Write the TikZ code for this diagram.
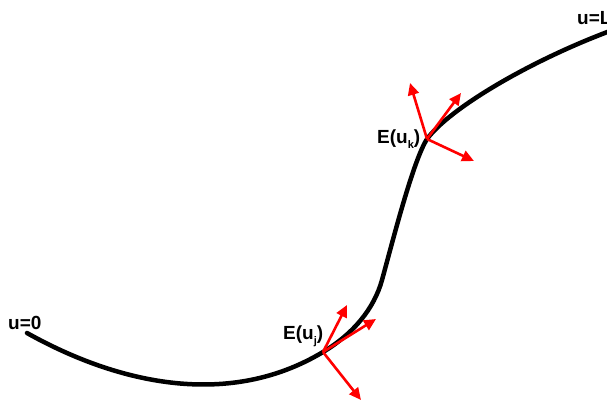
\documentclass[tikz,border=0pt]{standalone}
\usepackage{fontspec}
\setmainfont{Liberation Sans}
\usepackage{tikz}
\usetikzlibrary{arrows.meta}

\tikzset{
  curve/.style={line width=4.5pt, black, line cap=round},
  vec/.style={red, line width=2.6pt, -{Triangle[length=12pt, width=11pt]}},
  lbl/.style={font=\fontsize{19}{20}\selectfont\bfseries, inner sep=0pt, anchor=base west}
}
\newcommand{\lowsub}[1]{\raisebox{-5pt}{\fontsize{11}{11}\selectfont #1}}

\begin{document}
\begin{tikzpicture}[x=1pt, y=-1pt]
\useasboundingbox (0,0) rectangle (607,402);

% Frame points
\coordinate (j) at (323,352);
\coordinate (j1) at (347,305);
\coordinate (j2) at (376,319);
\coordinate (j3) at (361,400);
\coordinate (k) at (427,139);
\coordinate (k1) at (410,83);
\coordinate (k2) at (461,93);
\coordinate (k3) at (474,161);

% Curve
\draw[curve] (27,333) .. controls (120,385) and (230,408) .. (j)
  .. controls (353,334) and (374,309) .. (382,280)
  .. controls (393,240) and (413,161) .. (k)
  .. controls (450,108) and (530,61) .. (610,31);

% Frame vectors
\draw[vec] (j) -- (j1);
\draw[vec] (j) -- (j2);
\draw[vec] (j) -- (j3);
\draw[vec] (k) -- (k1);
\draw[vec] (k) -- (k2);
\draw[vec] (k) -- (k3);

% Labels
\node[lbl] (start) at (8,329) {u=0};
\node[lbl] (end) at (577,24) {u=L};
\node[lbl] (ej) at (283,339) {E(u\lowsub{j})};
\node[lbl] (ek) at (377,143) {E(u\lowsub{k})};
\end{tikzpicture}
\end{document}
